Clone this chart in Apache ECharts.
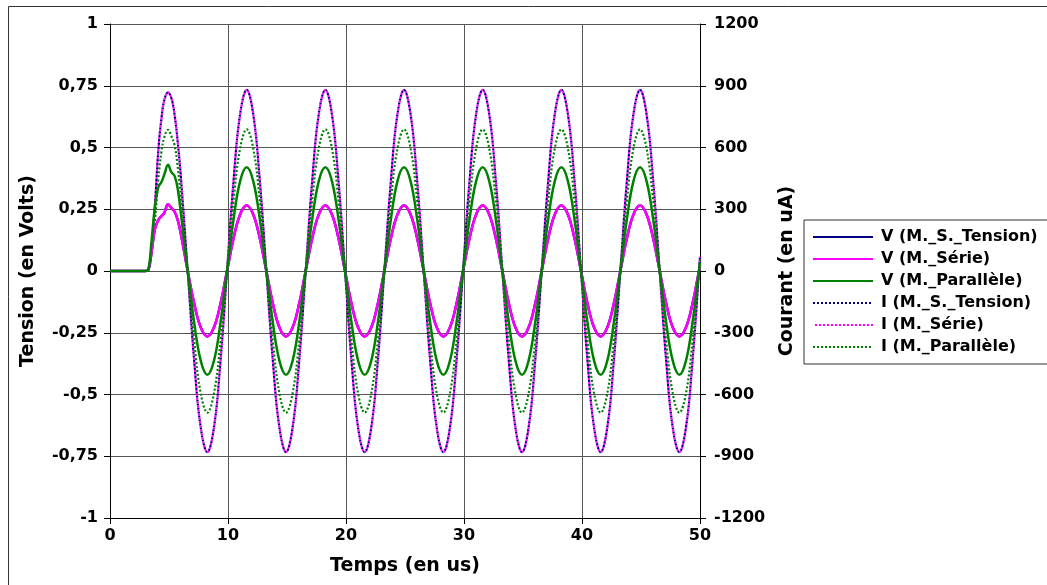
<!DOCTYPE html>
<html>
<head>
<meta charset="utf-8">
<script src="https://cdn.jsdelivr.net/npm/echarts@6/dist/echarts.min.js"></script>
<style>
html,body{margin:0;padding:0;background:#fff;}
#c{width:1047px;height:585px;}
</style>
</head>
<body>
<div id="c"></div>
<script>
// Time axis (µs)
const times = [0, 3.0, 3.25, 3.5, 3.806, 4.1, 4.361, 4.6, 4.917, 5.2, 5.472, 5.75, 6.028,
  6.583, 7.139, 7.694, 8.25, 8.806, 9.361, 9.917, 10.472, 11.028, 11.583, 12.139, 12.694,
  13.25, 13.806, 14.361, 14.917, 15.472, 16.028, 16.583, 17.139, 17.694, 18.25, 18.806, 19.361,
  19.917, 20.472, 21.028, 21.583, 22.139, 22.694, 23.25, 23.806, 24.361, 24.917, 25.472, 26.028,
  26.583, 27.139, 27.694, 28.25, 28.806, 29.361, 29.917, 30.472, 31.028, 31.583, 32.139, 32.694,
  33.25, 33.806, 34.361, 34.917, 35.472, 36.028, 36.583, 37.139, 37.694, 38.25, 38.806, 39.361,
  39.917, 40.472, 41.028, 41.583, 42.139, 42.694, 43.25, 43.806, 44.361, 44.917, 45.472, 46.028,
  46.583, 47.139, 47.694, 48.25, 48.806, 49.361, 49.917, 50];

// Tensions (V)
const vSerie = [0, 0, 0.005, 0.07, 0.17, 0.207, 0.222, 0.235, 0.27, 0.255, 0.24, 0.205, 0.145,
  0, -0.133, -0.229, -0.265, -0.229, -0.133, 0, 0.133, 0.229, 0.265, 0.229, 0.133,
  0, -0.133, -0.229, -0.265, -0.229, -0.133, 0, 0.133, 0.229, 0.265, 0.229, 0.133,
  0, -0.133, -0.229, -0.265, -0.229, -0.133, 0, 0.133, 0.229, 0.265, 0.229, 0.133,
  0, -0.133, -0.229, -0.265, -0.229, -0.133, 0, 0.133, 0.229, 0.265, 0.229, 0.133,
  0, -0.133, -0.229, -0.265, -0.229, -0.133, 0, 0.133, 0.229, 0.265, 0.229, 0.133,
  0, -0.133, -0.229, -0.265, -0.229, -0.133, 0, 0.133, 0.229, 0.265, 0.229, 0.133,
  0, -0.133, -0.229, -0.265, -0.229, -0.133, 0, 0.02];
const vTension = vSerie;
const vPar = [0, 0, 0.005, 0.11, 0.26, 0.34, 0.36, 0.39, 0.43, 0.40, 0.385, 0.33, 0.225,
  0, -0.21, -0.364, -0.42, -0.364, -0.21, 0, 0.21, 0.364, 0.42, 0.364, 0.21,
  0, -0.21, -0.364, -0.42, -0.364, -0.21, 0, 0.21, 0.364, 0.42, 0.364, 0.21,
  0, -0.21, -0.364, -0.42, -0.364, -0.21, 0, 0.21, 0.364, 0.42, 0.364, 0.21,
  0, -0.21, -0.364, -0.42, -0.364, -0.21, 0, 0.21, 0.364, 0.42, 0.364, 0.21,
  0, -0.21, -0.364, -0.42, -0.364, -0.21, 0, 0.21, 0.364, 0.42, 0.364, 0.21,
  0, -0.21, -0.364, -0.42, -0.364, -0.21, 0, 0.21, 0.364, 0.42, 0.364, 0.21,
  0, -0.21, -0.364, -0.42, -0.364, -0.21, 0, 0.035];

// Courants (uA)
const iSerie = [0, 0, 5, 100, 320, 590, 740, 830, 868, 840, 760, 620, 440,
  0, -440, -762, -880, -762, -440, 0, 440, 762, 880, 762, 440,
  0, -440, -762, -880, -762, -440, 0, 440, 762, 880, 762, 440,
  0, -440, -762, -880, -762, -440, 0, 440, 762, 880, 762, 440,
  0, -440, -762, -880, -762, -440, 0, 440, 762, 880, 762, 440,
  0, -440, -762, -880, -762, -440, 0, 440, 762, 880, 762, 440,
  0, -440, -762, -880, -762, -440, 0, 440, 762, 880, 762, 440,
  0, -440, -762, -880, -762, -440, 0, 70];
const iTension = iSerie;
const iPar = [0, 0, 5, 75, 245, 450, 580, 650, 686, 655, 612, 500, 345,
  0, -344, -596, -688, -596, -344, 0, 344, 596, 688, 596, 344,
  0, -344, -596, -688, -596, -344, 0, 344, 596, 688, 596, 344,
  0, -344, -596, -688, -596, -344, 0, 344, 596, 688, 596, 344,
  0, -344, -596, -688, -596, -344, 0, 344, 596, 688, 596, 344,
  0, -344, -596, -688, -596, -344, 0, 344, 596, 688, 596, 344,
  0, -344, -596, -688, -596, -344, 0, 344, 596, 688, 596, 344,
  0, -344, -596, -688, -596, -344, 0, 55];

const names = ['V (M._S._Tension)', 'V (M._Série)', 'V (M._Parallèle)',
               'I (M._S._Tension)', 'I (M._Série)', 'I (M._Parallèle)'];

const NAVY = '#000080', MAG = '#ff00ff', GRN = '#008000';
const FONT = 'DejaVu Sans';
const pairs = arr => times.map((t, i) => [t, arr[i]]);

function vLine(name, arr, color) {
  return { name, type: 'line', yAxisIndex: 0, data: pairs(arr), smooth: 0.4,
    showSymbol: false, symbol: 'none', color,
    lineStyle: { color, width: 2.5, type: 'solid' }, z: 3 };
}
function iLine(name, arr, color, offset) {
  return { name, type: 'line', yAxisIndex: 1, data: pairs(arr), smooth: 0.4,
    showSymbol: false, symbol: 'none', color,
    lineStyle: { color, width: 2.2, type: [2, 2], dashOffset: offset || 0 }, z: 2 };
}

const chart = echarts.init(document.getElementById('c'), null, { renderer: 'canvas' });
chart.setOption({
  animation: false,
  backgroundColor: '#fff',
  textStyle: { fontFamily: FONT },
  graphic: [{ type: 'rect', shape: { x: 8.5, y: 6.5, width: 1100, height: 700 },
    style: { fill: 'none', stroke: '#333', lineWidth: 1 }, silent: true, z: -1 }],
  grid: { left: 110, right: 347, top: 24, bottom: 67, containLabel: false },
  legend: {
    data: names, orient: 'vertical', left: 804, top: 220,
    padding: [9, 40, 9, 8], itemGap: 6, itemWidth: 60, itemHeight: 14,
    itemStyle: { opacity: 0 },
    borderColor: '#333', borderWidth: 1, backgroundColor: '#fff',
    textStyle: { fontFamily: FONT, fontSize: 16, fontWeight: 'bold', color: '#000', padding: [0, 0, 0, 3] }
  },
  xAxis: {
    type: 'value', min: 0, max: 50, interval: 10,
    name: 'Temps (en us)', nameLocation: 'middle', nameGap: 39,
    nameTextStyle: { fontFamily: FONT, fontSize: 19, fontWeight: 'bold', color: '#000' },
    axisLine: { show: true, onZero: false, lineStyle: { color: '#000', width: 1 } },
    axisTick: { show: true, length: 6, lineStyle: { color: '#000' } },
    axisLabel: { fontFamily: FONT, fontSize: 16, fontWeight: 'bold', color: '#000', margin: 10 },
    splitLine: { show: true, lineStyle: { color: '#555', width: 1 } }
  },
  yAxis: [{
    type: 'value', min: -1, max: 1, interval: 0.25, position: 'left',
    name: 'Tension (en Volts)', nameLocation: 'middle', nameGap: 72, nameRotate: 90,
    nameTextStyle: { fontFamily: FONT, fontSize: 19, fontWeight: 'bold', color: '#000' },
    axisLine: { show: true, onZero: false, lineStyle: { color: '#000', width: 1 } },
    axisTick: { show: true, length: 6, lineStyle: { color: '#000' } },
    axisLabel: { fontFamily: FONT, fontSize: 16, fontWeight: 'bold', color: '#000', margin: 12,
      formatter: v => String(+v.toFixed(2)).replace('.', ',') },
    splitLine: { show: true, lineStyle: { color: '#555', width: 1 } }
  }, {
    type: 'value', min: -1200, max: 1200, interval: 300, position: 'right',
    name: 'Courant (en uA)', nameLocation: 'middle', nameGap: 78, nameRotate: 90,
    nameTextStyle: { fontFamily: FONT, fontSize: 19, fontWeight: 'bold', color: '#000' },
    axisLine: { show: true, onZero: false, lineStyle: { color: '#000', width: 1 } },
    axisTick: { show: true, length: 6, lineStyle: { color: '#000' } },
    axisLabel: { fontFamily: FONT, fontSize: 16, fontWeight: 'bold', color: '#000', margin: 14,
      formatter: v => String(v) },
    splitLine: { show: false }
  }],
  series: [
    iLine(names[3], iTension, NAVY, 0),
    iLine(names[4], iSerie, MAG, 2),
    iLine(names[5], iPar, GRN, 0),
    vLine(names[0], vTension, NAVY),
    vLine(names[1], vSerie, MAG),
    vLine(names[2], vPar, GRN)
  ]
});
</script>
</body>
</html>
